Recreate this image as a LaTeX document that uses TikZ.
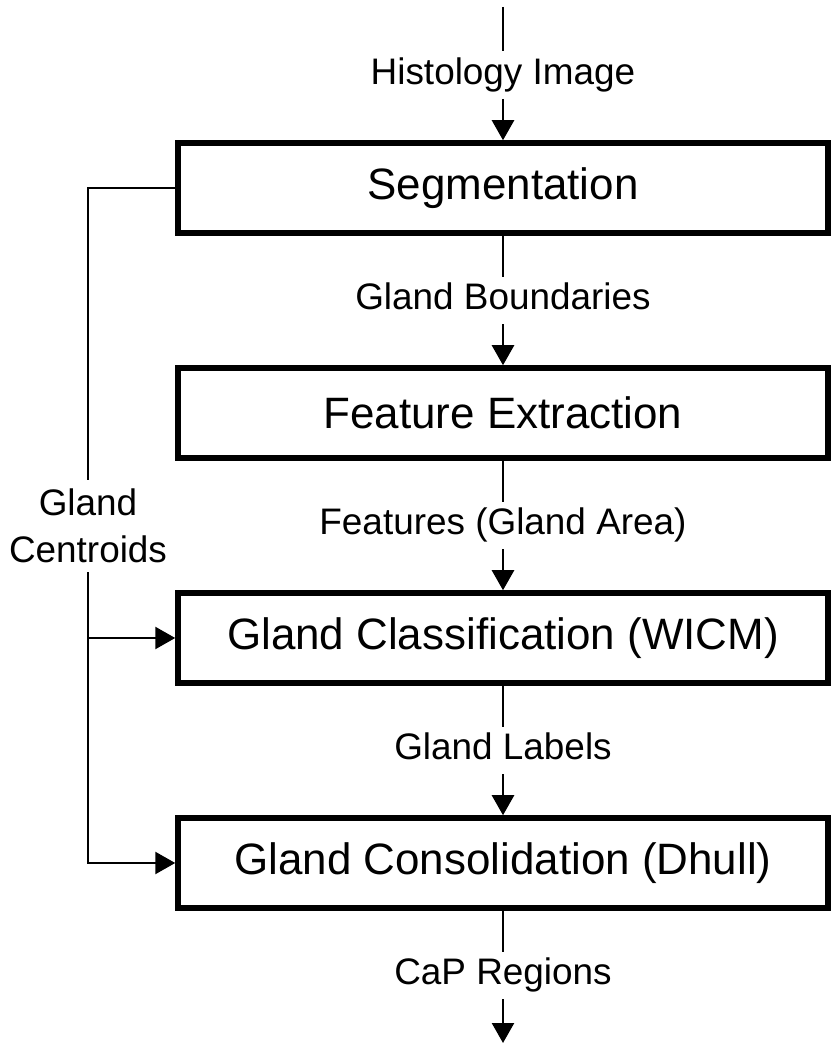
\documentclass[tikz,border=0pt]{standalone}
\usepackage{fontspec}
\setmainfont{Liberation Sans}
\usetikzlibrary{arrows.meta}
\begin{document}
\begin{tikzpicture}[
    stagebox/.style={draw, line width=0.11cm, minimum width=13cm, minimum height=1.8cm,
                     inner sep=0pt, font=\fontsize{25}{30}\selectfont},
    flowlabel/.style={fill=white, inner xsep=0.1cm, inner ysep=0.127cm,
                      text height=15.1pt, text depth=4.4pt, font=\fontsize{21}{26}\selectfont},
    wire/.style={line width=1.4pt},
    arr/.style={-{Triangle[length=0.4cm,width=0.44cm]}}
  ]
  \useasboundingbox (0,0) rectangle (16.72,21);

  % Drawing stage boxes
  \node [stagebox] (seg) at (10.06,17.24) {Segmentation};
  \node [stagebox] (feat) at (10.06,12.74) {Feature Extraction};
  \node [stagebox] (classif) at (10.06,8.24) {Gland Classification (WICM)};
  \node [stagebox] (consol) at (10.06,3.74) {Gland Consolidation (Dhull)};

  % Drawing flow labels
  \node [flowlabel] (histo) at (10.06,19.50) {Histology Image};
  \node [flowlabel] (bound) at (10.06,14.99) {Gland Boundaries};
  \node [flowlabel] (area) at (10.06,10.49) {Features (Gland Area)};
  \node [flowlabel] (glabel) at (10.06,5.99) {Gland Labels};
  \node [flowlabel] (cap) at (10.06,1.49) {CaP Regions};
  \node [align=center, inner sep=0pt, minimum height=1.84cm,
         font=\fontsize{21}{26.5}\selectfont] (cent) at (1.76,10.48) {Gland\\Centroids};

  % Drawing main flow
  \coordinate (imgin) at (10.06,20.86);
  \coordinate (capout) at (10.06,0.14);
  \draw [wire] (imgin) -- (histo);
  \draw [wire,arr] (histo) -- (seg);
  \draw [wire] (seg) -- (bound);
  \draw [wire,arr] (bound) -- (feat);
  \draw [wire] (feat) -- (area);
  \draw [wire,arr] (area) -- (classif);
  \draw [wire] (classif) -- (glabel);
  \draw [wire,arr] (glabel) -- (consol);
  \draw [wire] (consol) -- (cap);
  \draw [wire,arr] (cap) -- (capout);

  % Drawing centroid feedback
  \coordinate (cturn) at (1.76,17.24);
  \coordinate (cmid) at (1.76,8.24);
  \coordinate (cbot) at (1.76,3.74);
  \draw [wire] (seg.west) -- (cturn) -- (cent);
  \draw [wire,arr] (cent) -- (cbot) -- (consol);
  \draw [wire,arr] (cmid) -- (classif);
\end{tikzpicture}
\end{document}
